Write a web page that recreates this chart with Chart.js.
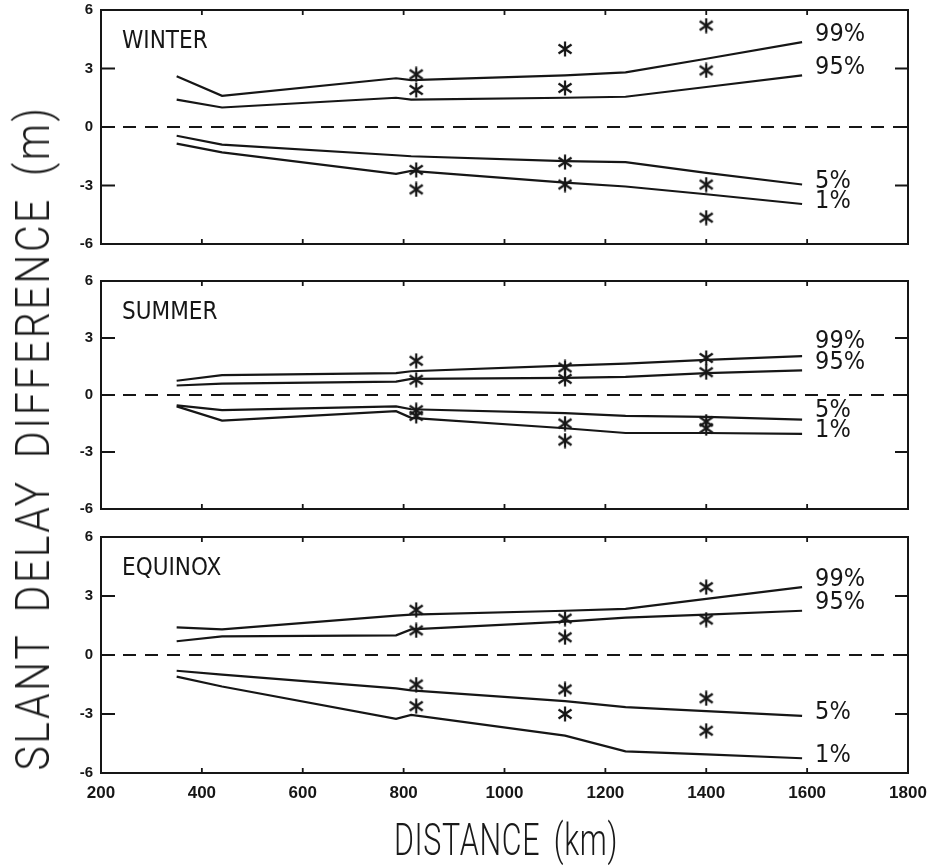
<!DOCTYPE html>
<html>
<head>
<meta charset="utf-8">
<script src="https://cdn.jsdelivr.net/npm/chart.js@4.4.1/dist/chart.umd.min.js"></script>
<style>
  html, body { margin: 0; padding: 0; background: #fff; }
  #wrap { position: relative; width: 929px; height: 865px; overflow: hidden; background: #fff; }
  canvas { position: absolute; left: 0; top: 0; }
  .title { position: absolute; white-space: nowrap; color: #1a1a1a;
           font-family: Roboto, 'Liberation Sans Narrow', 'Liberation Sans', sans-serif;
           font-weight: 300; line-height: 1; }
  #ytitle { left: 33px; top: 438px; font-size: 48px; letter-spacing: 3px; word-spacing: 10px; }
  #xtitle { left: 506px; top: 839px; font-size: 45px; letter-spacing: 1px; word-spacing: 8px; }
</style>
</head>
<body>
<div id="wrap">
  <canvas id="c1" width="929" height="865"></canvas>
  <canvas id="c2" width="929" height="865"></canvas>
  <canvas id="c3" width="929" height="865"></canvas>
  <div id="ytitle" class="title">SLANT DELAY DIFFERENCE (m)</div>
  <div id="xtitle" class="title">DISTANCE (km)</div>
</div>
<script>
// ---------------- DATA ----------------
const panelNames = ['WINTER', 'SUMMER', 'EQUINOX'];
const percentileLabels = ['99%', '95%', '5%', '1%'];
const xTickValues = [200, 400, 600, 800, 1000, 1200, 1400, 1600, 1800];
const yTickValues = [-6, -3, 0, 3, 6];

// distances (km) where the percentile curves were read
const distance = [350, 440, 785, 815, 1120, 1240, 1400, 1590];

const winter99 = [2.6, 1.6, 2.5, 2.4, 2.65, 2.8, 3.5, 4.35];
const winter95 = [1.4, 1.0, 1.5, 1.4, 1.5, 1.55, 2.05, 2.65];
const winter5  = [-0.45, -0.9, -1.45, -1.5, -1.75, -1.8, -2.35, -2.95];
const winter1  = [-0.85, -1.3, -2.4, -2.25, -2.85, -3.05, -3.45, -3.95];

const summer99 = [0.75, 1.05, 1.15, 1.25, 1.55, 1.65, 1.85, 2.05];
const summer95 = [0.5, 0.6, 0.7, 0.85, 0.9, 0.95, 1.15, 1.3];
const summer5  = [-0.55, -0.8, -0.6, -0.75, -0.95, -1.1, -1.15, -1.3];
const summer1  = [-0.6, -1.35, -0.85, -1.2, -1.75, -2.0, -2.0, -2.05];

const equinox99 = [1.4, 1.3, 2.0, 2.05, 2.25, 2.35, 2.85, 3.45];
const equinox95 = [0.7, 0.95, 1.0, 1.3, 1.7, 1.9, 2.05, 2.25];
const equinox5  = [-0.8, -1.0, -1.7, -1.8, -2.35, -2.65, -2.85, -3.1];
const equinox1  = [-1.1, -1.6, -3.25, -3.05, -4.1, -4.9, -5.05, -5.25];

// observed (asterisk) points
const obsDistance = [825, 1120, 1400];
const winterObs  = [[2.7, 1.9, -2.2, -3.2], [4.0, 2.0, -1.8, -2.95], [5.2, 2.9, -2.95, -4.65]];
const summerObs  = [[1.8, 0.8, -0.8, -1.1], [1.45, 0.85, -1.5, -2.4], [1.95, 1.2, -1.4, -1.75]];
const equinoxObs = [[2.3, 1.25, -1.5, -2.6], [1.85, 0.9, -1.75, -3.0], [3.45, 1.8, -2.2, -3.85]];

// ---------------- STYLE ----------------
const INK = '#161616';
const NARROW = "'Liberation Sans Narrow', 'DejaVu Sans Condensed', 'Liberation Sans', sans-serif";
const TICKFONT = "'Liberation Sans', Arial, sans-serif";

const starImg = document.createElement('canvas');
starImg.width = 16; starImg.height = 16;
(function () {
  const g = starImg.getContext('2d');
  g.strokeStyle = INK; g.lineWidth = 2.2; g.lineCap = 'butt';
  g.beginPath();
  g.moveTo(8, 0.5); g.lineTo(8, 15.5);
  g.moveTo(1.5, 3.5); g.lineTo(14.5, 12.5);
  g.moveTo(1.5, 12.5); g.lineTo(14.5, 3.5);
  g.stroke();
})();

const framePlugin = {
  id: 'frame',
  afterDatasetsDraw(chart, args, opts) {
    const { ctx, chartArea: a, scales: { x, y } } = chart;
    ctx.save();
    ctx.strokeStyle = INK;
    ctx.lineWidth = 2;
    ctx.strokeRect(a.left, a.top, a.right - a.left, a.bottom - a.top);
    ctx.lineWidth = 1.8;
    ctx.beginPath();
    xTickValues.slice(1, -1).forEach(v => {
      const px = x.getPixelForValue(v);
      ctx.moveTo(px, a.top); ctx.lineTo(px, a.top + 5);
      ctx.moveTo(px, a.bottom); ctx.lineTo(px, a.bottom - 5);
    });
    yTickValues.slice(1, -1).forEach(v => {
      const py = y.getPixelForValue(v);
      ctx.moveTo(a.left, py); ctx.lineTo(a.left + 14, py);
      ctx.moveTo(a.right, py); ctx.lineTo(a.right - 13, py);
    });
    ctx.stroke();

    // panel name
    ctx.fillStyle = INK;
    ctx.font = '24px ' + NARROW;
    ctx.textBaseline = 'alphabetic';
    ctx.textAlign = 'left';
    ctx.fillText(opts.name, a.left + 21, a.top + 38);

    // percentile labels at curve ends (upper pair sits a bit above its curve)
    const ends = opts.curves.map((c, i) => y.getPixelForValue(c[c.length - 1]) - (i < 2 ? 8 : 3));
    if (ends[1] - ends[0] < 21) ends[0] = ends[1] - 21;
    if (ends[3] - ends[2] < 20) ends[2] = ends[3] - 20;
    const lx = x.getPixelForValue(distance[distance.length - 1]) + 13;
    ctx.font = '25px ' + NARROW;
    ctx.textBaseline = 'middle';
    percentileLabels.forEach((t, i) => ctx.fillText(t, lx, ends[i]));
    ctx.restore();
  }
};

function pts(xs, ys) { return xs.map((v, i) => ({ x: v, y: ys[i] })); }

function makePanel(id, name, curves, obs, padTop, padBottom, showX) {
  const datasets = [];
  datasets.push({
    data: [{ x: 200, y: 0 }, { x: 1800, y: 0 }],
    borderColor: INK, borderWidth: 2, borderDash: [13, 9], pointRadius: 0
  });
  curves.forEach(c => datasets.push({
    data: pts(distance, c), borderColor: INK, borderWidth: 2.2, pointRadius: 0, tension: 0
  }));
  const obsPts = [];
  obs.forEach((vals, i) => vals.forEach(v => obsPts.push({ x: obsDistance[i], y: v })));
  datasets.push({
    data: obsPts, showLine: false, pointStyle: starImg, pointRadius: 8,
    borderColor: INK, backgroundColor: INK
  });

  const xScale = {
    type: 'linear', min: 200, max: 1800, display: showX,
    afterBuildTicks: s => { s.ticks = xTickValues.map(v => ({ value: v })); },
    ticks: { callback: v => String(v), autoSkip: false, maxRotation: 0, padding: 10,
             color: INK, font: { family: TICKFONT, size: 17, weight: 'bold' } },
    grid: { display: false, drawTicks: false }, border: { display: false }
  };
  if (showX) xScale.afterFit = s => { s.height = 30; s.paddingLeft = 0; s.paddingRight = 0; };

  new Chart(document.getElementById(id), {
    type: 'line',
    data: { datasets },
    plugins: [framePlugin],
    options: {
      responsive: false, animation: false, devicePixelRatio: 1,
      layout: { padding: { top: padTop, bottom: padBottom, left: 0, right: 21 } },
      plugins: { legend: { display: false }, tooltip: { enabled: false },
                 frame: { name, curves } },
      scales: {
        x: xScale,
        y: {
          min: -6, max: 6,
          afterFit: s => { s.width = 101; s.paddingTop = 0; s.paddingBottom = 0; },
          afterBuildTicks: s => { s.ticks = yTickValues.map(v => ({ value: v })); },
          ticks: { callback: v => String(v), padding: 8, color: INK,
                   font: { family: TICKFONT, size: 15, weight: 'bold' } },
          grid: { display: false, drawTicks: false }, border: { display: false }
        }
      }
    }
  });
}

makePanel('c1', panelNames[0], [winter99, winter95, winter5, winter1], winterObs, 10, 865 - 244, false);
makePanel('c2', panelNames[1], [summer99, summer95, summer5, summer1], summerObs, 281, 865 - 509, false);
makePanel('c3', panelNames[2], [equinox99, equinox95, equinox5, equinox1], equinoxObs, 537, 865 - 773 - 30, true);

// fit the big titles to their measured extents
function fit(el, target, rotate) {
  const w = el.offsetWidth;
  const k = target / w;
  el.style.transform = 'translate(-50%, -50%)' + (rotate ? ' rotate(-90deg)' : '') + ' scaleX(' + k + ')';
}
fit(document.getElementById('ytitle'), 665, true);
fit(document.getElementById('xtitle'), 224, false);
</script>
</body>
</html>
